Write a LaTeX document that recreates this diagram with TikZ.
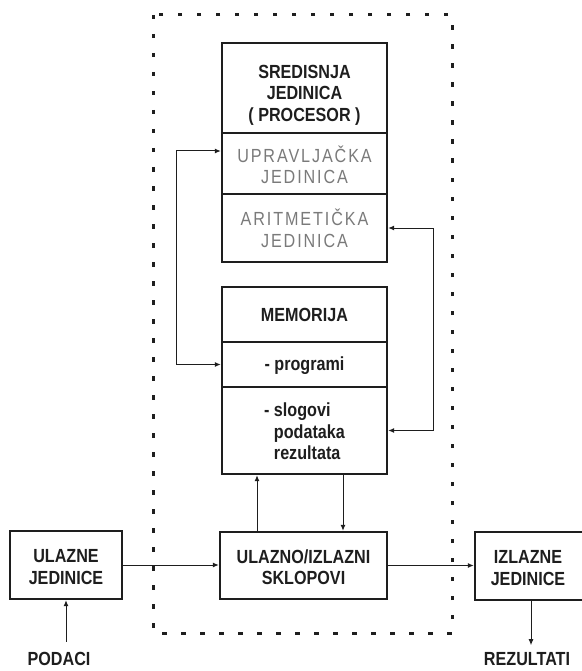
\documentclass[tikz,border=0pt]{standalone}
\usepackage{fontspec}
\setmainfont{Liberation Sans}[FakeStretch=0.85]
\newfontfamily\grayfont{Liberation Sans}[FakeStretch=0.85,LetterSpace=10]
\usetikzlibrary{arrows.meta}
\definecolor{ink}{HTML}{1E1E1E}
\definecolor{lightink}{HTML}{7A7A7A}
\tikzset{
  box/.style={draw=ink, line width=2.4pt, rectangle, inner sep=0pt, align=center,
    font=\fontsize{19}{21.5}\selectfont\bfseries, text=ink},
  graytext/.style={font=\grayfont\fontsize{19}{21.5}\selectfont, text=lightink},
  conn/.style={draw=ink, line width=1pt, >={Latex[length=6pt,width=5pt]}},
  frame/.style={draw=ink, line width=3pt, dash pattern=on 4.5pt off 14.5pt},
  lbl/.style={font=\fontsize{19}{21.5}\selectfont\bfseries, text=ink, inner sep=0pt}
}
\begin{document}
\begin{tikzpicture}[x=1pt,y=-1pt]
\useasboundingbox (0,0) rectangle (581,671);
% dotted frame
\draw[frame] (153,15) rectangle (452,633);
% CPU
\node[box, minimum width=165pt, minimum height=90pt] (cpu) at (304.5,88) {\rule{0pt}{27.6pt}SREDISNJA\\JEDINICA\\( PROCESOR )};
\node[box, graytext, minimum width=165pt, minimum height=61pt] (upr) at (304.5,163.5) {\rule{0pt}{19.6pt}UPRAVLJAČKA\\JEDINICA};
\node[box, graytext, minimum width=165pt, minimum height=68pt] (ari) at (304.5,228) {\rule{0pt}{17.6pt}ARITMETIČKA\\JEDINICA};
% memory
\node[box, minimum width=165pt, minimum height=55pt] (mem) at (304.5,314.5) {MEMORIJA};
\node[box, minimum width=165pt, minimum height=45pt] (prog) at (304.5,364.5) {\rule{0pt}{17pt}- programi};
\node[box, minimum width=165pt, minimum height=87pt, align=left] (slog) at (304.5,430.5) {\rule{0pt}{16pt}- slogovi\\\hphantom{- }podataka\\\hphantom{- }rezultata};
% I/O
\node[box, minimum width=167pt, minimum height=67pt] (io) at (303.5,565.5) {\rule{0pt}{17pt}ULAZNO/IZLAZNI\\SKLOPOVI};
\node[box, minimum width=112pt, minimum height=68pt] (ul) at (66,565) {\rule{0pt}{17pt}ULAZNE\\JEDINICE};
\node[box, minimum width=120pt, minimum height=68pt] (iz) at (535,566) {\rule{0pt}{17pt}IZLAZNE\hspace*{14pt}\\JEDINICE\hspace*{14pt}};
% labels
\node[lbl] (pod) at (59,659) {PODACI};
\node[lbl] (rez) at (527,659) {REZULTATI};
% connectors
\draw[conn,<->] ([yshift=12.5pt]upr.west) -- ++(-44,0) |- (prog.west);
\draw[conn,<->] (ari.east) -- ++(45,0) |- (slog.east);
\draw[conn,->] ([xshift=-47.5pt]slog.south |- io.north) -- ([xshift=-47.5pt]slog.south);
\draw[conn,->] ([xshift=38.5pt]slog.south) -- ([xshift=38.5pt]slog.south |- io.north);
\draw[conn,->] (ul.east) -- (ul.east -| io.west);
\draw[conn,->] (io.east) -- (io.east -| iz.west);
\draw[conn,<-] (ul.south) -- ++(0,42);
\draw[conn,->] ([xshift=-4pt]iz.south) -- ++(0,44);
\end{tikzpicture}
\end{document}
